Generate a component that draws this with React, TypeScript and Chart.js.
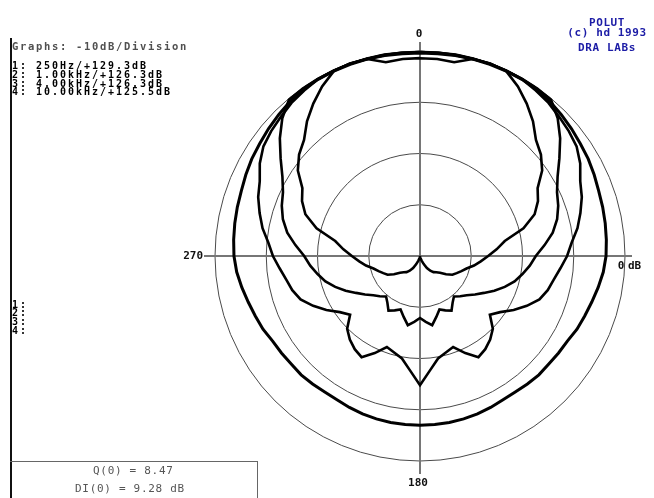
import React, { useEffect, useRef } from 'react';
import { Chart, registerables } from 'chart.js';

Chart.register(...registerables);

// Angle categories (degrees, clockwise from front), 5 degree steps
const angleLabels: string[] = [];
for (let a = 0; a < 360; a += 5) angleLabels.push(String(a));

// Measured half-polar responses (dB re. on-axis), 0..180 degrees in 5 degree steps.
// The other half is the mirror image (symmetric radiator).
const resp250Hz = [-0.4, -0.4, -0.3, -0.2, -0.2, -0.2, -0.2, -0.3, -0.6, -1.0, -1.4, -1.8, -2.1, -2.5, -2.9, -3.1, -3.3, -3.5, -3.7, -4.1, -4.7, -5.3, -5.8, -6.2, -6.8, -7.0, -7.2, -7.2, -7.4, -7.6, -7.6, -7.4, -7.2, -7.1, -7.0, -7.0, -7.0];
const resp1kHz = [-0.2, -0.2, -0.2, -0.2, -0.1, -0.1, -0.2, -0.6, -1.0, -1.6, -2.1, -2.7, -3.9, -5.5, -6.4, -7.6, -8.8, -10.3, -11.3, -12.5, -13.5, -14.2, -15.2, -17.0, -18.9, -20.9, -22.2, -19.9, -18.7, -17.8, -17.2, -19.1, -21.1, -20.5, -19.7, -17.6, -14.8];
const resp4kHz = [-0.2, -0.2, -0.1, -0.1, -0.1, -0.1, -0.1, -0.1, -0.2, -2.0, -4.3, -6.8, -9.0, -10.5, -11.3, -12.3, -13.7, -15.6, -17.4, -18.5, -19.7, -20.9, -22.4, -24.0, -25.6, -26.9, -28.1, -28.9, -29.7, -28.9, -27.7, -28.3, -28.9, -27.7, -26.3, -27.1, -27.9];
const resp10kHz = [-1.4, -1.4, -1.6, -0.2, 0.0, -0.2, -1.8, -3.7, -5.7, -8.0, -9.2, -10.9, -13.5, -14.6, -16.2, -19.1, -23.2, -25.0, -26.7, -28.1, -29.3, -30.6, -31.4, -32.1, -32.7, -33.8, -34.9, -35.5, -35.9, -36.5, -37.3, -38.2, -39.0, -39.4, -39.6, -39.8, -39.8];

const radialMin = -40;
const radialMax = 0;
const radialStep = 10;

const legendTitle = 'Graphs: -10dB/Division';
const legendLines = ['1: 250Hz/+129.3dB', '2: 1.00kHz/+126.3dB', '3: 4.00kHz/+126.3dB', '4: 10.00kHz/+125.5dB'];
const cursorLines = ['1:', '2:', '3:', '4:'];
const creditLines = ['POLUT', '(c) hd 1993', 'DRA LABs'];
const qLine = 'Q(0) = 8.47';
const diLine = 'DI(0) = 9.28 dB';
const axisTop = '0';
const axisLeft = '270';
const axisBottom = '180';
const radialLabel = '0';
const radialUnit = 'dB';

function mirror(half: number[]): number[] {
  const full = half.slice();
  for (let i = half.length - 2; i >= 1; i--) full.push(half[i]);
  return full;
}

const MONO = '"DejaVu Sans Mono", "Liberation Mono", monospace';

const polarFrame = {
  id: 'polarFrame',
  beforeDatasetsDraw(chart: any) {
    const s = chart.scales.r;
    const ctx = chart.ctx;
    const cx = s.xCenter;
    const cy = s.yCenter;
    const R = s.drawingArea;
    ctx.save();
    ctx.strokeStyle = '#767676';
    ctx.lineWidth = 2;
    ctx.beginPath();
    ctx.moveTo(cx - R - 11, cy);
    ctx.lineTo(cx + R + 7, cy);
    ctx.moveTo(cx, cy - R - 9);
    ctx.lineTo(cx, cy + R + 13);
    ctx.stroke();
    ctx.restore();
  },
  afterDraw(chart: any) {
    const s = chart.scales.r;
    const ctx = chart.ctx;
    const cx = s.xCenter;
    const cy = s.yCenter;
    const R = s.drawingArea;
    ctx.save();
    ctx.fillStyle = '#111';
    ctx.font = 'bold 11px ' + MONO;
    ctx.textBaseline = 'middle';
    ctx.textAlign = 'center';
    ctx.fillText(axisTop, cx - 1, cy - R - 17);
    ctx.fillText(axisBottom, cx - 2, cy + R + 22);
    ctx.textAlign = 'right';
    ctx.fillText(axisLeft, cx - R - 12, cy);
    ctx.textAlign = 'center';
    ctx.fillText(radialLabel, cx + R - 4, cy + 10);
    ctx.textAlign = 'left';
    ctx.fillText(radialUnit, cx + R + 3, cy + 10);
    ctx.restore();
  },
};

export default function App() {
  const ref = useRef<HTMLCanvasElement | null>(null);

  useEffect(() => {
    if (!ref.current) return;
    const mk = (label: string, data: number[], w: number) => ({
      label,
      data: mirror(data),
      borderColor: '#000',
      borderWidth: w,
      backgroundColor: 'transparent',
      fill: false,
      pointRadius: 0,
      tension: 0,
    });
    const chart = new Chart(ref.current, {
      type: 'radar',
      data: {
        labels: angleLabels,
        datasets: [
          mk('250Hz', resp250Hz, 3),
          mk('1.00kHz', resp1kHz, 2.6),
          mk('4.00kHz', resp4kHz, 2.6),
          mk('10.00kHz', resp10kHz, 2.6),
        ],
      },
      options: {
        animation: false,
        responsive: false,
        devicePixelRatio: 1,
        layout: { padding: { left: 215, right: 29, top: 51, bottom: 37 } },
        plugins: { legend: { display: false }, tooltip: { enabled: false } },
        elements: { point: { radius: 0 }, line: { tension: 0 } },
        scales: {
          r: {
            min: radialMin,
            max: radialMax,
            startAngle: 0,
            ticks: { display: false, stepSize: radialStep },
            grid: {
              circular: true,
              color: (c: any) => (c.index === 0 ? 'transparent' : '#4a4a4a'),
              lineWidth: 1,
            },
            angleLines: { display: false },
            pointLabels: { display: false },
          },
        },
      } as any,
      plugins: [polarFrame],
    });
    return () => chart.destroy();
  }, []);

  const monoBold: React.CSSProperties = {
    position: 'absolute',
    fontFamily: MONO,
    fontWeight: 'bold',
    fontSize: 10,
    letterSpacing: '1.98px',
    lineHeight: '8.8px',
    whiteSpace: 'pre',
    color: '#000',
  };
  const credit: React.CSSProperties = {
    ...monoBold,
    left: 560,
    width: 94,
    textAlign: 'center',
    fontSize: 11,
    letterSpacing: '0.6px',
    lineHeight: '10px',
    color: '#1c1ca6',
  };
  const stat: React.CSSProperties = {
    ...monoBold,
    fontWeight: 'normal',
    fontSize: 11,
    letterSpacing: '0.7px',
    lineHeight: '10px',
    color: '#555',
  };

  return (
    <div style={{ position: 'fixed', left: 0, top: 0, width: 654, height: 498, background: '#fff', overflow: 'hidden' }}>
      <canvas ref={ref} width={654} height={498} style={{ position: 'absolute', left: 0, top: 0, width: 654, height: 498 }} />
      <div style={{ position: 'absolute', left: 10, top: 38, width: 2, height: 460, background: '#111' }} />
      <div style={{ position: 'absolute', left: 10, top: 461, width: 247, height: 1, background: '#666' }} />
      <div style={{ position: 'absolute', left: 257, top: 461, width: 1, height: 37, background: '#666' }} />
      <div style={{ ...monoBold, left: 12, top: 42, fontSize: 10.5, letterSpacing: '1.68px', color: '#505050' }}>{legendTitle}</div>
      {legendLines.map((t, i) => (
        <div key={t} style={{ ...monoBold, left: 12, top: 62 + i * 8.8 }}>{t}</div>
      ))}
      {cursorLines.map((t, i) => (
        <div key={t} style={{ ...monoBold, left: 12, top: 300.5 + i * 8.8 }}>{t}</div>
      ))}
      <div style={{ ...credit, top: 18 }}>{creditLines[0]}</div>
      <div style={{ ...credit, top: 28 }}>{creditLines[1]}</div>
      <div style={{ ...credit, top: 43 }}>{creditLines[2]}</div>
      <div style={{ ...stat, left: 93, top: 466 }}>{qLine}</div>
      <div style={{ ...stat, left: 75, top: 484 }}>{diLine}</div>
    </div>
  );
}
